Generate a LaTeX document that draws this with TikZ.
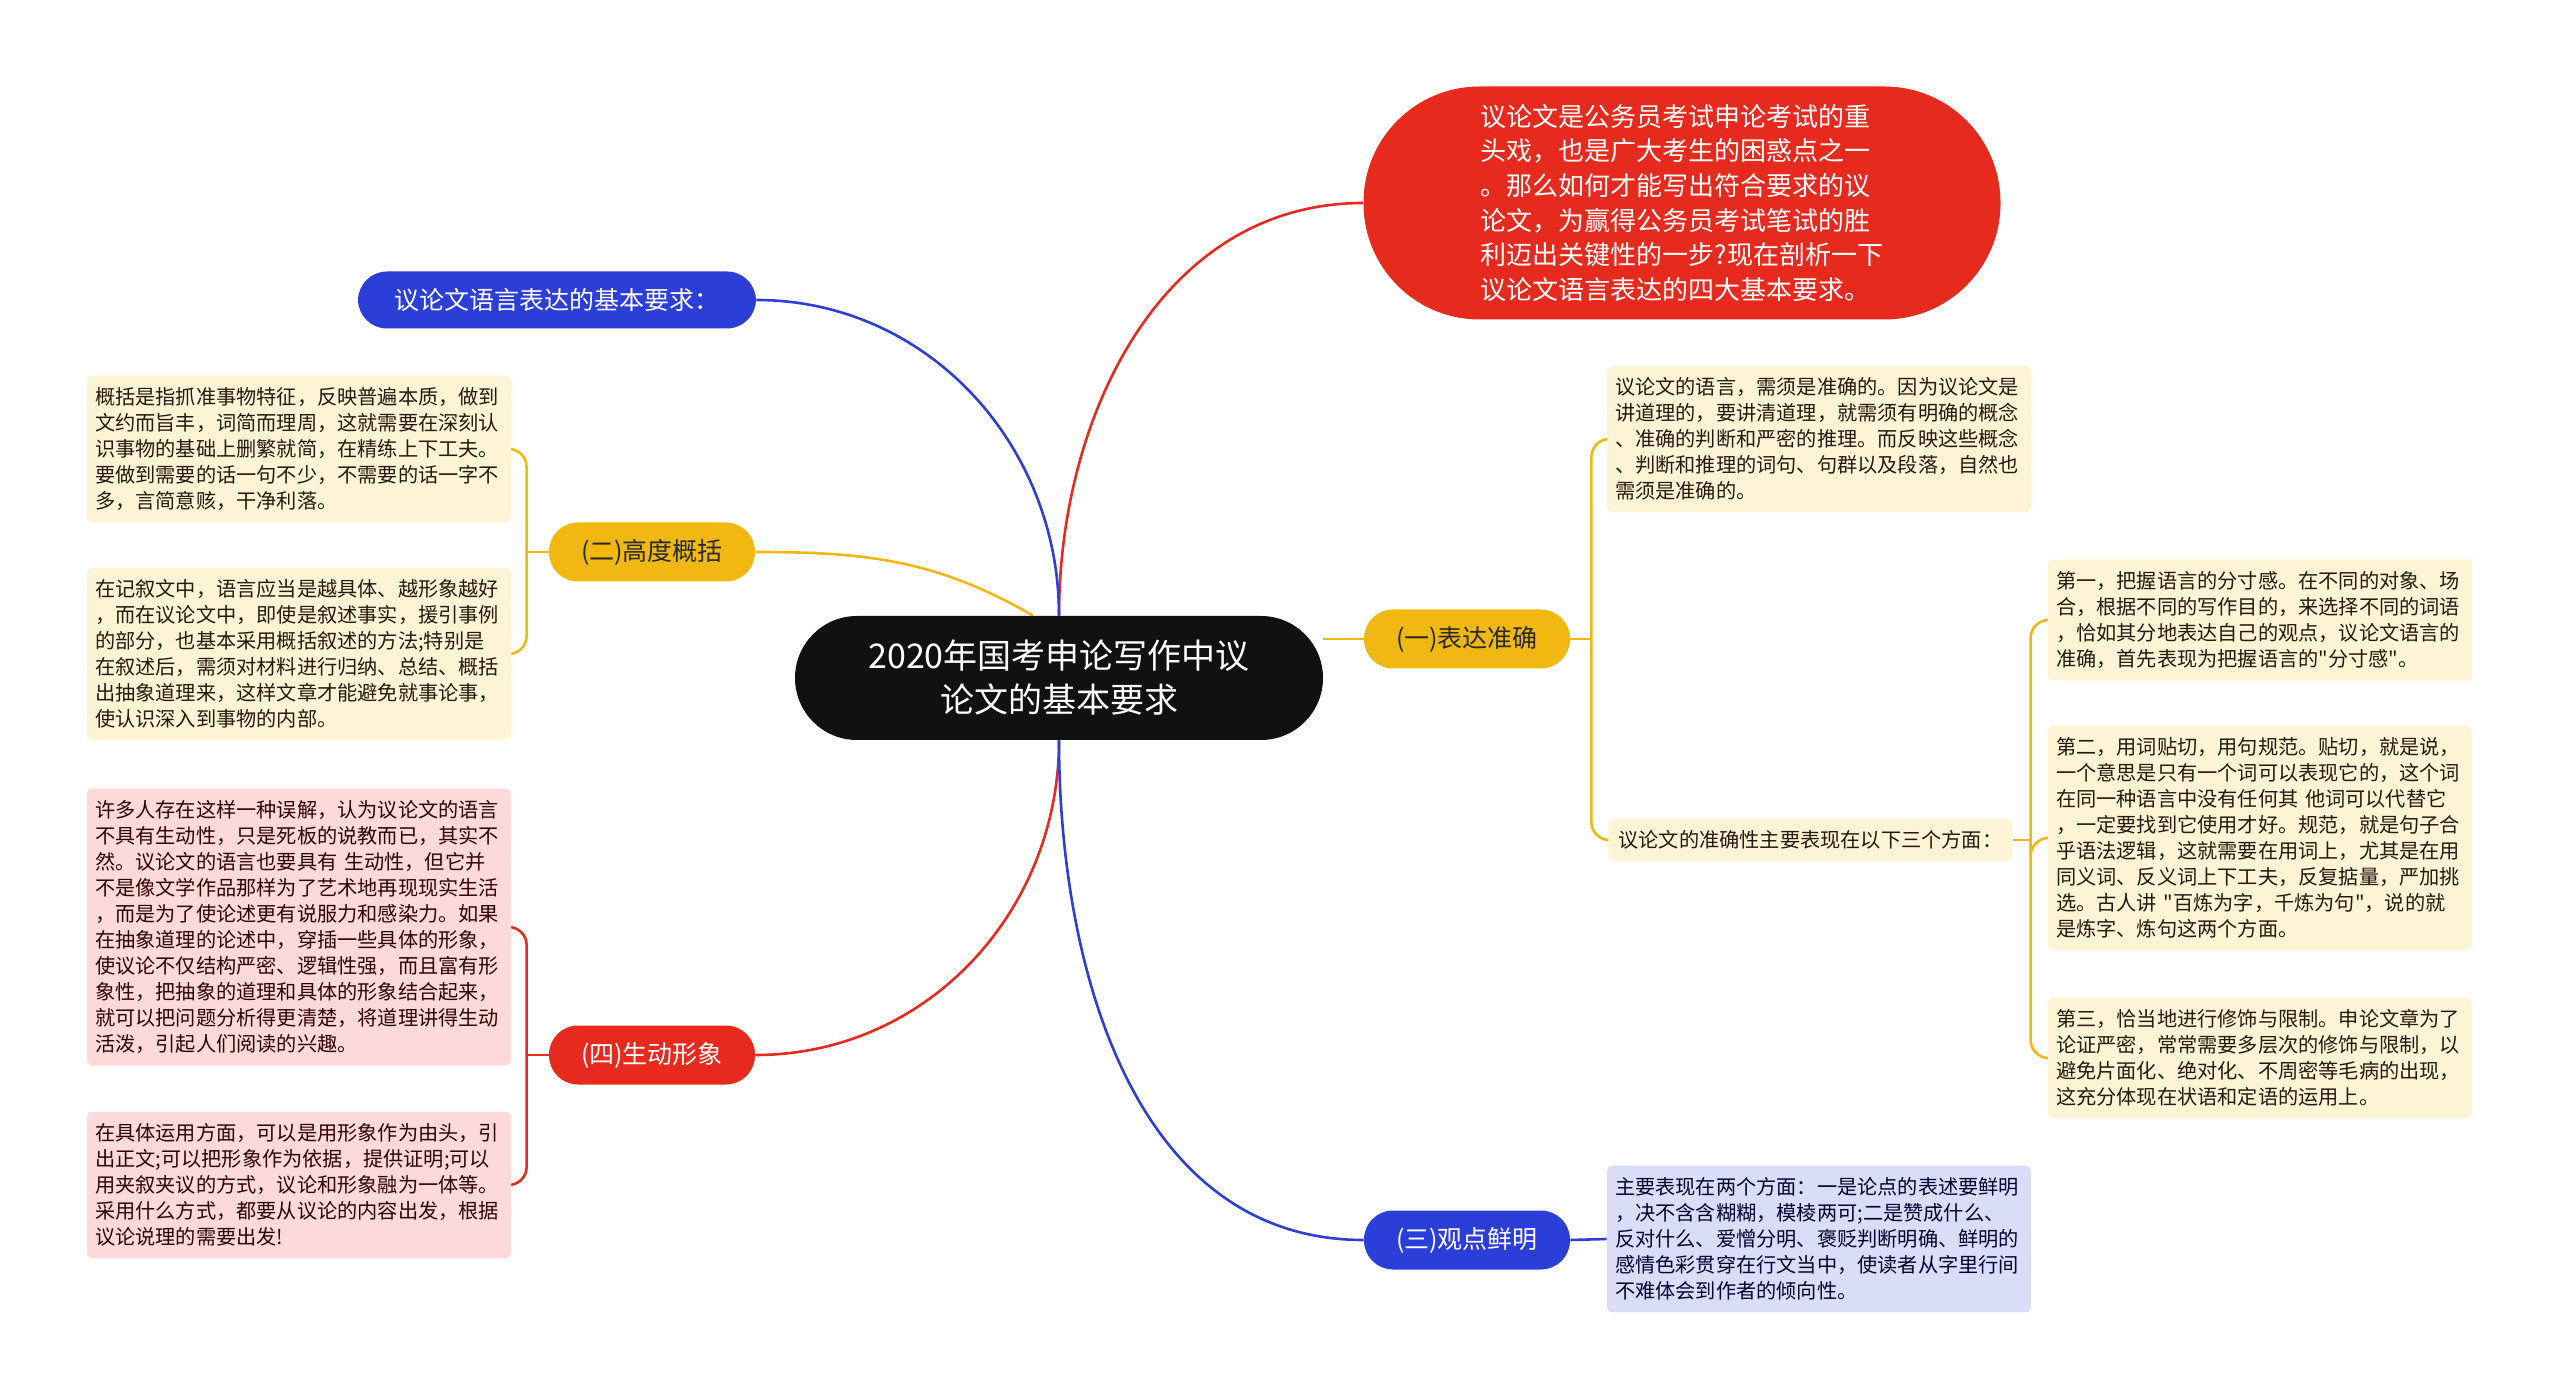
\documentclass[tikz,border=0pt]{standalone}
\usepackage{fontspec}
\setmainfont{Noto Sans CJK SC}[Ligatures=TeXOff]
\usetikzlibrary{backgrounds}
\definecolor{heise}{HTML}{111111}
\definecolor{hongse}{HTML}{E62A1D}
\definecolor{lanse}{HTML}{2C3ED8}
\definecolor{huangse}{HTML}{F2B812}
\definecolor{danhuang}{HTML}{FDF3D5}
\definecolor{danfen}{HTML}{FCDADA}
\definecolor{danlan}{HTML}{DADDF7}
\begin{document}
\begin{tikzpicture}[x=0.5pt,y=-0.5pt,
zhuti/.style={fill=heise,text=white,rounded corners=31pt,minimum width=264pt,minimum height=62pt,align=center,font=\fontsize{17pt}{22pt}\selectfont},
fenzhi/.style={fill=#1,rounded corners=14.5pt,minimum width=103pt,minimum height=29.5pt,font=\fontsize{12.5pt}{15pt}\selectfont},
yezi/.style={fill=#1,rounded corners=3pt,inner xsep=4pt,inner ysep=6pt,text width=204pt,align=left,font=\fontsize{10.1pt}{13pt}\selectfont},
xian/.style={draw=#1,line width=1.3pt},
kuo/.style={draw=#1,line width=1.3pt,rounded corners=9pt}]
\useasboundingbox (0,0) rectangle (2560,1400);
\node[zhuti] (zhu) at (1059,678) {2020年国考申论写作中议\\论文的基本要求};
\node[fill=hongse,text=white,rounded corners=58pt,minimum width=318.5pt,minimum height=116.5pt,align=left,font=\fontsize{13pt}{17.3pt}\selectfont] (yinyan) at (1682,203) {议论文是公务员考试申论考试的重\\头戏，也是广大考生的困惑点之一\\。那么如何才能写出符合要求的议\\论文，为赢得公务员考试笔试的胜\\利迈出关键性的一步?现在剖析一下\\议论文语言表达的四大基本要求。};
\node[fenzhi=lanse,text=white,minimum width=199pt,minimum height=28.5pt] (yaoqiu) at (557,300) {议论文语言表达的基本要求：};
\node[fenzhi=huangse,text=heise!90] (gaikuo) at (652,552) {(二)高度概括};
\node[fenzhi=hongse,text=white] (xingxiang) at (652,1055) {(四)生动形象};
\node[fenzhi=huangse,text=heise!90] (zhunque) at (1467,639) {(一)表达准确};
\node[fenzhi=lanse,text=white] (xianming) at (1467,1240) {(三)观点鲜明};
\node[yezi=danhuang,text=black!80!brown] (gk1) at (299,449) {概括是指抓准事物特征，反映普遍本质，做到\\文约而旨丰，词简而理周，这就需要在深刻认\\识事物的基础上删繁就简，在精练上下工夫。\\要做到需要的话一句不少，不需要的话一字不\\多，言简意赅，干净利落。};
\node[yezi=danhuang,text=black!80!brown] (gk2) at (299,654) {在记叙文中，语言应当是越具体、越形象越好\\，而在议论文中，即使是叙述事实，援引事例\\的部分，也基本采用概括叙述的方法;特别是\\在叙述后，需须对材料进行归纳、总结、概括\\出抽象道理来，这样文章才能避免就事论事，\\使认识深入到事物的内部。};
\node[yezi=danfen,text=black!80!red] (xx1) at (299,927) {许多人存在这样一种误解，认为议论文的语言\\不具有生动性，只是死板的说教而已，其实不\\然。议论文的语言也要具有 生动性，但它并\\不是像文学作品那样为了艺术地再现现实生活\\，而是为了使论述更有说服力和感染力。如果\\在抽象道理的论述中，穿插一些具体的形象，\\使议论不仅结构严密、逻辑性强，而且富有形\\象性，把抽象的道理和具体的形象结合起来，\\就可以把问题分析得更清楚，将道理讲得生动\\活泼，引起人们阅读的兴趣。};
\node[yezi=danfen,text=black!80!red] (xx2) at (299,1185) {在具体运用方面，可以是用形象作为由头，引\\出正文;可以把形象作为依据，提供证明;可以\\用夹叙夹议的方式，议论和形象融为一体等。\\采用什么方式，都要从议论的内容出发，根据\\议论说理的需要出发!};
\node[yezi=danhuang,text=black!80!brown] (zq1) at (1819,439) {议论文的语言，需须是准确的。因为议论文是\\讲道理的，要讲清道理，就需须有明确的概念\\、准确的判断和严密的推理。而反映这些概念\\、判断和推理的词句、句群以及段落，自然也\\需须是准确的。};
\node[yezi=danhuang,text width=,inner xsep=5pt,text=black!80!brown,anchor=west] (zq2) at (1608,840) {议论文的准确性主要表现在以下三个方面：};
\node[yezi=danhuang,text=black!80!brown] (fm1) at (2260,620) {第一，把握语言的分寸感。在不同的对象、场\\合，根据不同的写作目的，来选择不同的词语\\，恰如其分地表达自己的观点，议论文语言的\\准确，首先表现为把握语言的"分寸感"。};
\node[yezi=danhuang,text=black!80!brown] (fm2) at (2260,838) {第二，用词贴切，用句规范。贴切，就是说，\\一个意思是只有一个词可以表现它的，这个词\\在同一种语言中没有任何其 他词可以代替它\\，一定要找到它使用才好。规范，就是句子合\\乎语法逻辑，这就需要在用词上，尤其是在用\\同义词、反义词上下工夫，反复掂量，严加挑\\选。古人讲~"百炼为字，千炼为句"，说的就\\是炼字、炼句这两个方面。};
\node[yezi=danhuang,text=black!80!brown] (fm3) at (2260,1058) {第三，恰当地进行修饰与限制。申论文章为了\\论证严密，常常需要多层次的修饰与限制，以\\避免片面化、绝对化、不周密等毛病的出现，\\这充分体现在状语和定语的运用上。};
\node[yezi=danlan,text=black!80!blue] (xm1) at (1819,1239) {主要表现在两个方面：一是论点的表述要鲜明\\，决不含含糊糊，模棱两可;二是赞成什么、\\反对什么、爱憎分明、褒贬判断明确、鲜明的\\感情色彩贯穿在行文当中，使读者从字里行间\\不难体会到作者的倾向性。};
\begin{scope}[on background layer]
\draw[xian=hongse] (zhu.north) to[out=90,in=180] (yinyan.west);
\draw[xian=lanse] (zhu.north) to[out=90,in=0] (yaoqiu.east);
\draw[xian=huangse] (gaikuo.east) to[out=0,in=150] ([xshift=-13pt]zhu.north);
\draw[xian=hongse] (zhu.south) to[out=-90,in=0] (xingxiang.east);
\draw[xian=lanse] (zhu.south) to[out=-90,in=180] (xianming.west);
\draw[xian=huangse] (zhu.east |- zhunque) -- (zhunque.west);
\draw[xian=lanse] (xianming.east) -- (xm1.west);
\draw[xian=huangse] (gaikuo.west) -- ++(-22,0) coordinate (gkb);
\draw[xian=hongse] (xingxiang.west) -- ++(-22,0) coordinate (xxb);
\draw[xian=huangse] (zhunque.east) -- ++(21,0) coordinate (zqb);
\draw[xian=huangse] (zq2.east) -- ++(18,0) coordinate (fmb);
\foreach \y in {gk1,gk2} \draw[kuo=huangse] (gkb) |- (\y.east);
\foreach \y in {xx1,xx2} \draw[kuo=hongse] (xxb) |- (\y.east);
\foreach \y in {zq1,zq2} \draw[kuo=huangse] (zqb) |- (\y.west);
\foreach \y in {fm1,fm2,fm3} \draw[kuo=huangse] (fmb) |- (\y.west);
\end{scope}
\end{tikzpicture}
\end{document}
